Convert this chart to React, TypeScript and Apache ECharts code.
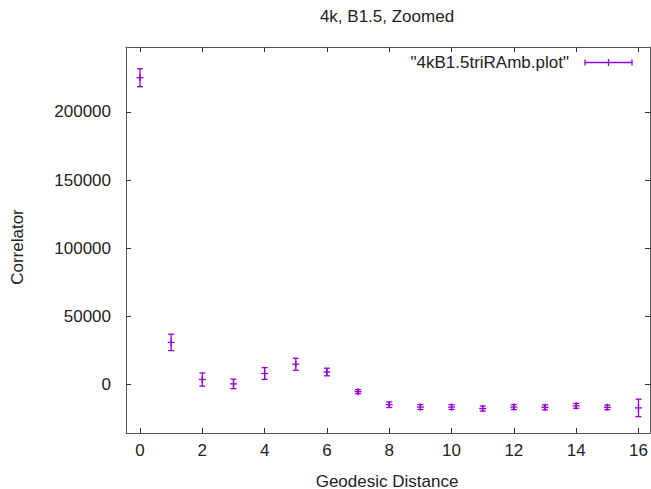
import React, { useEffect, useRef } from "react";
import * as echarts from "echarts";

const distances = [0, 1, 2, 3, 4, 5, 6, 7, 8, 9, 10, 11, 12, 13, 14, 15, 16];
const correlator = [225000, 31000, 3800, 600, 8200, 15000, 9300, -5100, -14700, -16400, -16400, -17500, -16400, -16600, -15500, -16600, -17000];
const errors = [6600, 6000, 4800, 3500, 4300, 4400, 2800, 1500, 2000, 1800, 1800, 1800, 1800, 1800, 1800, 1700, 6400];
const xTicks = [0, 2, 4, 6, 8, 10, 12, 14, 16];
const yTicks = [0, 50000, 100000, 150000, 200000];
const titleText = "4k, B1.5, Zoomed";
const xName = "Geodesic Distance";
const yName = "Correlator";
const seriesName = '"4kB1.5triRAmb.plot"';

const FONT = "'Liberation Sans', Arial, sans-serif";
const PURPLE = "#9400d3";
const AXIS = "#555555";
const TEXT = "#222222";

export default function App() {
  const ref = useRef<HTMLDivElement>(null);
  useEffect(() => {
    if (!ref.current) return;
    const chart = echarts.init(ref.current, null, { renderer: "svg" });
    const axisLine = { show: true, onZero: false, lineStyle: { color: AXIS, width: 1 } };
    const tickStyle = { color: "#333333", width: 1 };
    const plain = (v: number) => String(v);
    const xMin = -0.45, xMax = 16.37, yMin = -35400, yMax = 247500;
    const option: any = {
      animation: false,
      backgroundColor: "#ffffff",
      grid: { left: 126, top: 47, right: 1, bottom: 56, containLabel: false },
      xAxis: [
        {
          type: "value", min: xMin, max: xMax, position: "bottom",
          axisLine,
          axisTick: { show: true, inside: true, length: 5, customValues: xTicks, lineStyle: tickStyle },
          axisLabel: { show: true, customValues: xTicks, formatter: plain, fontSize: 17, fontFamily: FONT, color: TEXT, margin: 9 },
          splitLine: { show: false },
        },
        {
          type: "value", min: xMin, max: xMax, position: "top",
          axisLine,
          axisTick: { show: true, inside: true, length: 5, customValues: xTicks, lineStyle: tickStyle },
          axisLabel: { show: false },
          splitLine: { show: false },
        },
      ],
      yAxis: [
        {
          type: "value", min: yMin, max: yMax, position: "left",
          axisLine,
          axisTick: { show: true, inside: true, length: 5, customValues: yTicks, lineStyle: tickStyle },
          axisLabel: { show: true, customValues: yTicks, formatter: plain, fontSize: 17, fontFamily: FONT, color: TEXT, margin: 15 },
          splitLine: { show: false },
        },
        {
          type: "value", min: yMin, max: yMax, position: "right",
          axisLine,
          axisTick: { show: true, inside: true, length: 5, customValues: yTicks, lineStyle: tickStyle },
          axisLabel: { show: false },
          splitLine: { show: false },
        },
      ],
      series: [
        {
          type: "custom",
          name: seriesName,
          xAxisIndex: 0,
          yAxisIndex: 0,
          encode: { x: 0, y: 1 },
          data: distances.map((d, i) => [d, correlator[i], errors[i]]),
          renderItem: (_params: any, api: any) => {
            const x = api.value(0);
            const y = api.value(1);
            const e = api.value(2);
            const c = api.coord([x, y]);
            const hi = api.coord([x, y + e]);
            const lo = api.coord([x, y - e]);
            const style = { stroke: PURPLE, lineWidth: 1.3, fill: null };
            const cap = 3;
            const p = 3.5;
            return {
              type: "group",
              children: [
                { type: "line", shape: { x1: c[0], y1: hi[1], x2: c[0], y2: lo[1] }, style },
                { type: "line", shape: { x1: c[0] - cap, y1: hi[1], x2: c[0] + cap, y2: hi[1] }, style },
                { type: "line", shape: { x1: c[0] - cap, y1: lo[1], x2: c[0] + cap, y2: lo[1] }, style },
                { type: "line", shape: { x1: c[0] - p, y1: c[1], x2: c[0] + p, y2: c[1] }, style },
                { type: "line", shape: { x1: c[0], y1: c[1] - p, x2: c[0], y2: c[1] + p }, style },
              ],
            };
          },
        },
      ],
      graphic: [
        {
          type: "text", x: 387, y: 16.5,
          style: { text: titleText, fontSize: 17, fontFamily: FONT, fill: TEXT, textAlign: "center", textVerticalAlign: "middle" },
        },
        {
          type: "text", x: 387, y: 481,
          style: { text: xName, fontSize: 17, fontFamily: FONT, fill: TEXT, textAlign: "center", textVerticalAlign: "middle" },
        },
        {
          type: "text", x: 17.5, y: 247, rotation: Math.PI / 2,
          style: { text: yName, fontSize: 17, fontFamily: FONT, fill: TEXT, textAlign: "center", textVerticalAlign: "middle" },
        },
        {
          type: "text", x: 569, y: 62,
          style: { text: seriesName, fontSize: 17, fontFamily: FONT, fill: TEXT, textAlign: "right", textVerticalAlign: "middle" },
        },
        {
          type: "group",
          children: [
            { type: "line", shape: { x1: 585, y1: 62.5, x2: 632, y2: 62.5 }, style: { stroke: PURPLE, lineWidth: 1.3 } },
            { type: "line", shape: { x1: 585, y1: 59.5, x2: 585, y2: 65.5 }, style: { stroke: PURPLE, lineWidth: 1.3 } },
            { type: "line", shape: { x1: 608.5, y1: 59, x2: 608.5, y2: 66 }, style: { stroke: PURPLE, lineWidth: 1.3 } },
            { type: "line", shape: { x1: 632, y1: 59.5, x2: 632, y2: 65.5 }, style: { stroke: PURPLE, lineWidth: 1.3 } },
          ],
        },
      ],
    };
    chart.setOption(option);
    return () => chart.dispose();
  }, []);
  return (
    <div
      ref={ref}
      style={{ position: "fixed", left: 0, top: 0, width: 651, height: 489, background: "#fff" }}
    />
  );
}
